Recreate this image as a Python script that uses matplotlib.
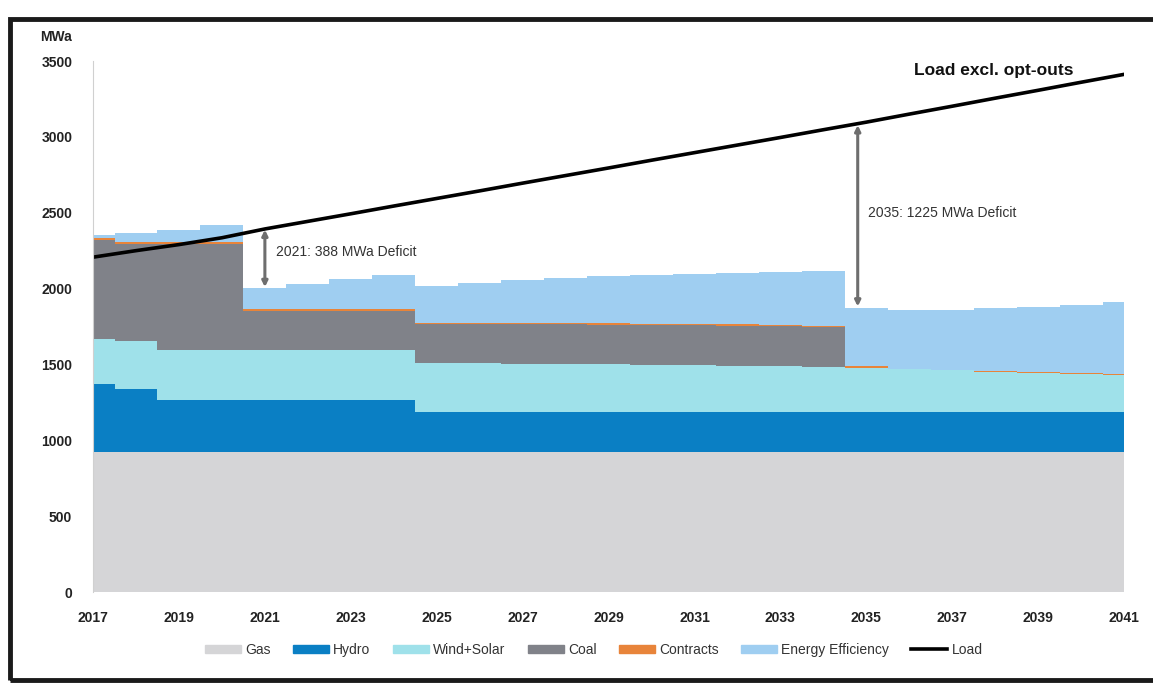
import numpy as np
import matplotlib
matplotlib.use("Agg")
import matplotlib.pyplot as plt
from matplotlib.patches import Rectangle

plt.rcParams['font.family'] = ['Liberation Sans Narrow', 'Liberation Sans', 'DejaVu Sans']

# yearly values, MWa
years = list(range(2017, 2042))
gas = [925] * 25
hydro = [445, 412] + [340] * 6 + [259] * 17
wind_solar = [295, 318, 330, 330, 330, 330, 330, 330,
              326, 324, 321, 318, 316, 313, 311, 308, 306, 302,
              294, 286, 278, 268, 261, 254, 246]
coal = [655, 637, 697, 697, 257, 257, 257, 257,
        258, 259, 261, 262, 262, 263, 263, 264, 264, 259,
        0, 0, 0, 0, 0, 0, 0]
contracts = [15, 12, 12, 12, 12, 12, 12, 12,
             8, 8, 8, 8, 8, 8, 8, 8, 8, 8,
             10, 3, 3, 6, 6, 6, 6]
energy_eff = [17, 60, 83, 114, 141, 169, 196, 224,
              244, 265, 281, 298, 310, 322, 332, 341, 350, 365,
              384, 385, 397, 412, 429, 448, 476]
load = [2207, 2250, 2290, 2335, 2393, 2443, 2493, 2544, 2594, 2644,
        2695, 2745, 2795, 2846, 2896, 2946, 2996, 3047, 3097,
        3150, 3202, 3255, 3307, 3360, 3412]

series_names = ["Gas", "Hydro", "Wind+Solar", "Coal", "Contracts", "Energy Efficiency"]
series_colors = ["#d5d5d7", "#0a7fc4", "#9fe1ea", "#808289", "#e8843a", "#9fcef1"]
series = [gas, hydro, wind_solar, coal, contracts, energy_eff]

fig = plt.figure(figsize=(11.53, 6.84), dpi=100)
ax = fig.add_axes([0.0807, 0.1345, 0.8942, 0.7763])

x = np.array(years)
bottom = np.zeros(len(years))
handles = []
for name, col, vals in zip(series_names, series_colors, series):
    top = bottom + np.array(vals)
    ax.fill_between(x, bottom, top, step='mid', color=col, linewidth=0)
    handles.append(Rectangle((0, 0), 1, 1, color=col, label=name))
    bottom = top
supply = bottom

line, = ax.plot(x, load, color='black', linewidth=2.6, label='Load')
handles.append(line)

ax.set_xlim(2017, 2041)
ax.set_ylim(0, 3500)
ax.set_xticks(years[::2])
ax.set_xticklabels([str(y) for y in years[::2]], fontweight='bold', fontsize=10)
ax.set_yticks(range(0, 3501, 500))
ax.set_yticklabels([str(v) for v in range(0, 3501, 500)], fontweight='bold', fontsize=10)
ax.tick_params(length=0, pad=14, colors='#222222')
ax.tick_params(axis='y', pad=15)
for s in ['top', 'right', 'bottom']:
    ax.spines[s].set_visible(False)
ax.spines['left'].set_color('#d0d0d0')

ax.text(-0.051, 1.045, "MWa", transform=ax.transAxes, fontweight='bold', fontsize=10,
        ha='left', va='center', color='#222222')

# deficit arrows
i21 = years.index(2021)
i35 = years.index(2035)
ax.annotate("", xy=(2021, supply[i21] + 5), xytext=(2021, load[i21] - 5),
            arrowprops=dict(arrowstyle='<|-|>', color='#6e6e6e', lw=2.2,
                            mutation_scale=8, shrinkA=0, shrinkB=0))
ax.text(2021.25, 2240, "2021: 388 MWa Deficit", fontsize=10, color='#333333', va='center')
ax.annotate("", xy=(2034.8, supply[i35] + 10), xytext=(2034.8, load[i35] - 20),
            arrowprops=dict(arrowstyle='<|-|>', color='#6e6e6e', lw=2.2,
                            mutation_scale=8, shrinkA=0, shrinkB=0))
ax.text(2035.05, 2500, "2035: 1225 MWa Deficit", fontsize=10, color='#333333', va='center')
ax.text(2036.1, 3440, "Load excl. opt-outs", fontsize=12.5, fontweight='bold', color='#111111',
        va='center')

fig.legend(handles=handles, loc='center', bbox_to_anchor=(0.515, 0.05), ncol=7,
           frameon=False, fontsize=10, handlelength=2.6, handleheight=0.5,
           columnspacing=1.6, handletextpad=0.3, labelcolor='#333333')

# outer frame
fig.patches.append(Rectangle((0.009, 0.006), 1.02, 0.966, transform=fig.transFigure,
                             fill=False, edgecolor='#1a1a1a', linewidth=3.5))

fig.savefig("out.png", dpi=100)
